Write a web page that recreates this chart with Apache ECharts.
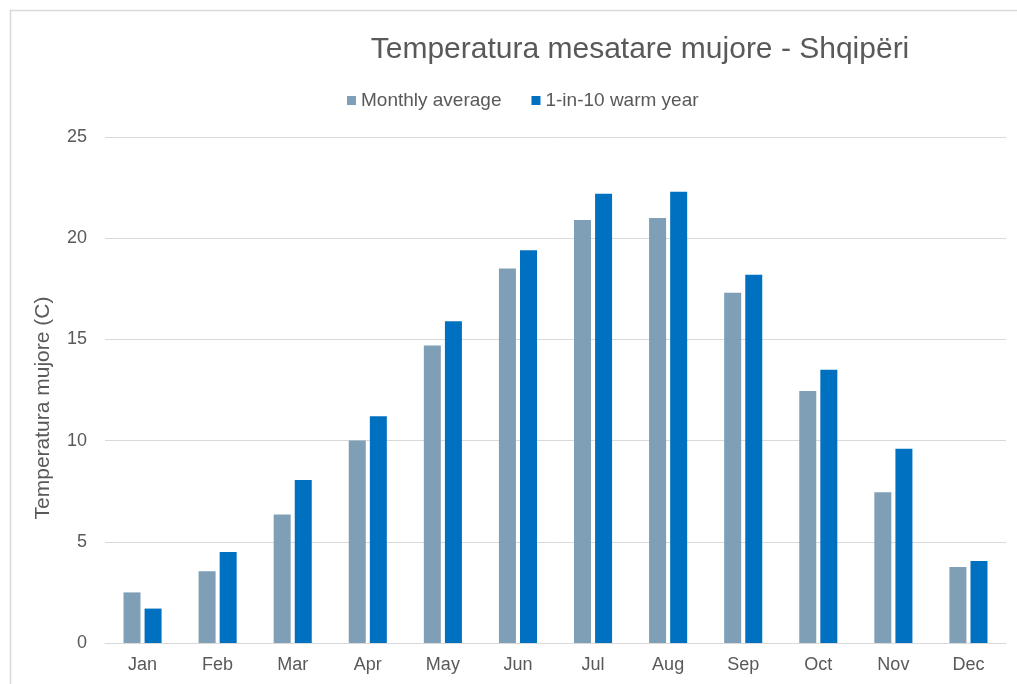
<!DOCTYPE html>
<html>
<head>
<meta charset="utf-8">
<script src="https://cdn.jsdelivr.net/npm/echarts@6/dist/echarts.min.js"></script>
<style>
  html, body { margin: 0; padding: 0; background: #fff; }
  #main { width: 1017px; height: 684px; }
</style>
</head>
<body>
<div id="main"></div>
<script>
// muajt
const months = ["Jan", "Feb", "Mar", "Apr", "May", "Jun", "Jul", "Aug", "Sep", "Oct", "Nov", "Dec"];
// mesatarja mujore
const monthlyAverage = [2.5, 3.55, 6.35, 10.0, 14.7, 18.5, 20.9, 21.0, 17.3, 12.45, 7.45, 3.75];
// viti i ngrohte 1 ne 10
const warmYear = [1.7, 4.5, 8.05, 11.2, 15.9, 19.4, 22.2, 22.3, 18.2, 13.5, 9.6, 4.05];

let chart = echarts.init(document.getElementById("main"));
chart.setOption({
  backgroundColor: "#fff",
  animation: false,
  textStyle: { fontFamily: "Liberation Sans, Arial, sans-serif" },
  graphic: [
    // korniza e grafikut
    {
      type: "rect",
      shape: { x: 10.5, y: 10.5, width: 1020, height: 690 },
      style: { fill: null, stroke: "#d9d9d9", lineWidth: 1.5 }
    },
    // titulli i boshtit y
    {
      type: "text",
      x: 43,
      y: 408,
      rotation: Math.PI / 2,
      style: {
        text: "Temperatura mujore (C)",
        fontSize: 21,
        fontFamily: "Liberation Sans, Arial, sans-serif",
        fill: "#595959",
        align: "center",
        verticalAlign: "middle"
      }
    }
  ],
  title: {
    text: "Temperatura mesatare mujore - Shqipëri",
    left: 635,
    top: 30,
    textAlign: "center",
    textStyle: { fontSize: 30, fontWeight: "normal", color: "#595959" }
  },
  legend: {
    data: ["Monthly average", "1-in-10 warm year"],
    left: 342,
    top: 86,
    itemWidth: 9,
    itemHeight: 9,
    itemGap: 30,
    icon: "rect",
    textStyle: { fontSize: 19, color: "#595959" }
  },
  grid: { left: 105, right: 11, top: 137, bottom: 41 },
  xAxis: {
    type: "category",
    data: months,
    axisLine: { lineStyle: { color: "#d9d9d9" } },
    axisTick: { show: false },
    axisLabel: { fontSize: 18, color: "#595959", margin: 13 }
  },
  yAxis: {
    type: "value",
    min: 0,
    max: 25,
    interval: 5,
    axisLabel: { fontSize: 18, color: "#595959", margin: 18 },
    splitLine: { lineStyle: { color: "#d9d9d9" } }
  },
  series: [
    {
      name: "Monthly average",
      type: "bar",
      data: monthlyAverage,
      barWidth: 17,
      barGap: "24%",
      itemStyle: { color: "#7f9fb7" }
    },
    {
      name: "1-in-10 warm year",
      type: "bar",
      data: warmYear,
      barWidth: 17,
      itemStyle: { color: "#0070c0" }
    }
  ]
});
</script>
</body>
</html>
